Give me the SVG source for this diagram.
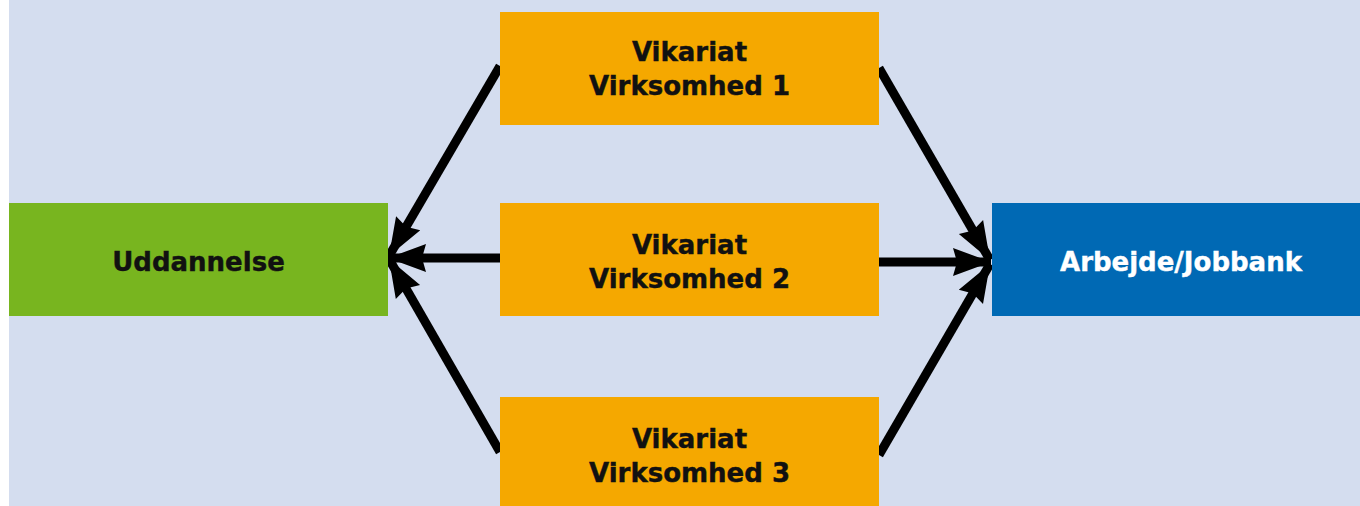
<svg xmlns="http://www.w3.org/2000/svg" width="1360" height="506" viewBox="0 0 1360 506">
  <style>
    .bg { fill: #D4DDEF; }
    .vik { fill: #F5A800; }
    .edu { fill: #78B51F; }
    .job { fill: #0069B4; }
    .lbl { font-family: "DejaVu Sans", "Liberation Sans", sans-serif; font-weight: bold; font-size: 26px; text-anchor: middle; fill: #111111; stroke: #111111; stroke-width: 0.4px; }
    .lbl.light { fill: #FFFFFF; stroke: #FFFFFF; }
    .conn { stroke: #000000; stroke-width: 9; fill: none; marker-end: url(#head); }
  </style>
  <defs>
    <!-- solid arrowhead with a shallow notch at the back -->
    <marker id="head" markerUnits="userSpaceOnUse" markerWidth="44" markerHeight="32" refX="38" refY="14" orient="auto" overflow="visible">
      <path d="M0,0 L38,14 L0,28 L4,14 Z" fill="#000000"/>
    </marker>
  </defs>

  <rect class="bg" x="9" y="0" width="1351" height="506"/>

  <g id="connectors">
    <line class="conn" x1="500" y1="66" x2="389" y2="256"/>
    <line class="conn" x1="500" y1="258" x2="388" y2="258"/>
    <line class="conn" x1="500" y1="452" x2="389" y2="259"/>
    <line class="conn" x1="879" y1="68" x2="990" y2="260"/>
    <line class="conn" x1="879" y1="262" x2="991" y2="262"/>
    <line class="conn" x1="879" y1="455" x2="990" y2="264"/>
  </g>

  <g id="vikariat1">
    <rect class="vik" x="500" y="12" width="379" height="113"/>
    <text class="lbl" x="689.5" y="61">Vikariat</text>
    <text class="lbl" x="689.5" y="95">Virksomhed 1</text>
  </g>
  <g id="vikariat2">
    <rect class="vik" x="500" y="203" width="379" height="113"/>
    <text class="lbl" x="689.5" y="254">Vikariat</text>
    <text class="lbl" x="689.5" y="288">Virksomhed 2</text>
  </g>
  <g id="vikariat3">
    <rect class="vik" x="500" y="397" width="379" height="109"/>
    <text class="lbl" x="689.5" y="448">Vikariat</text>
    <text class="lbl" x="689.5" y="482">Virksomhed 3</text>
  </g>
  <g id="uddannelse">
    <rect class="edu" x="9" y="203" width="379" height="113"/>
    <text class="lbl" x="198.5" y="271">Uddannelse</text>
  </g>
  <g id="arbejde">
    <rect class="job" x="992" y="203" width="368" height="113"/>
    <text class="lbl light" x="1181" y="271">Arbejde/Jobbank</text>
  </g>
</svg>
